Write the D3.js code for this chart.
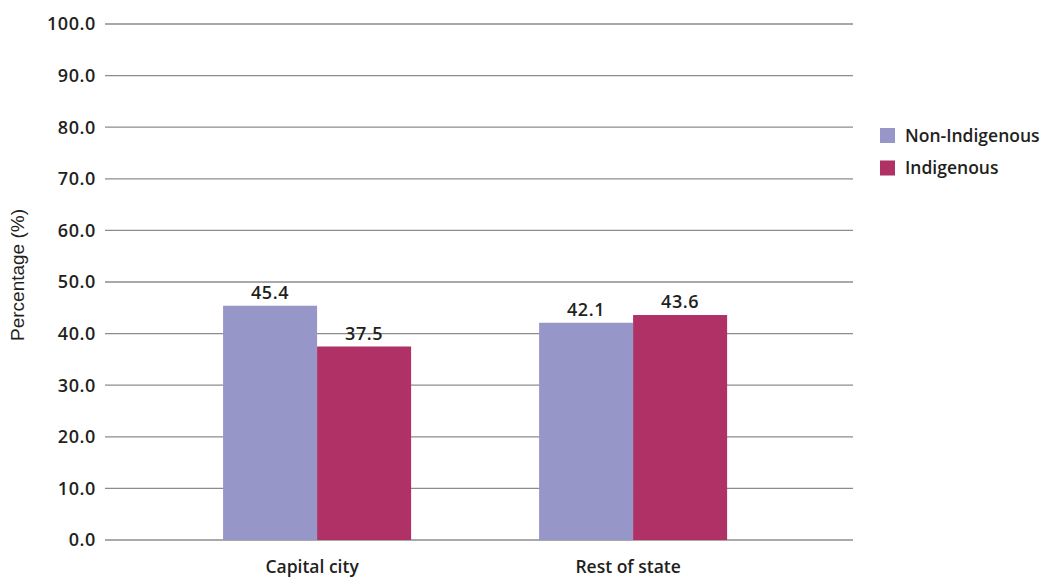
<!DOCTYPE html>
<html>
<head>
<meta charset="utf-8">
<script src="https://cdn.jsdelivr.net/npm/d3@7"></script>
<style>
  body { margin: 0; background: #fff; }
  svg { display: block; }
  .tick-label, .bar-label, .cat-label, .legend-label {
    font-family: "Open Sans", sans-serif;
    font-weight: 600;
    fill: #231f20;
  }
</style>
</head>
<body>
<div class="chart"></div>
<script>

////////// DATA //////////

var categories = ["Capital city", "Rest of state"];
var seriesNames = ["Non-Indigenous", "Indigenous"];
var nonIndigenous = [45.4, 42.1];
var indigenous = [37.5, 43.6];
var yTicks = [0, 10, 20, 30, 40, 50, 60, 70, 80, 90, 100];

var seriesColours = ["#9696c8", "#b03166"];


////////// SETUP //////////

var width = 1040,
    height = 578;

var plot = { left: 105, right: 853, top: 24, bottom: 540 };

var svg = d3.select(".chart")
  .append("svg")
    .attr("width", width)
    .attr("height", height);

var x0 = d3.scaleBand()
    .domain(categories)
    .range([plot.left, plot.right])
    .paddingInner(0.405)
    .paddingOuter(0.386)
    .align(0.484);

var x1 = d3.scaleBand()
    .domain(seriesNames)
    .range([0, x0.bandwidth()]);

var y = d3.scaleLinear()
    .domain([0, 100])
    .range([plot.bottom, plot.top]);

var colour = d3.scaleOrdinal()
    .domain(seriesNames)
    .range(seriesColours);

var rows = categories.map(function(c, i) {
  return { category: c, values: [
    { series: seriesNames[0], value: nonIndigenous[i] },
    { series: seriesNames[1], value: indigenous[i] }
  ]};
});


////////// GRID + Y AXIS //////////

var grid = svg.append("g").attr("class", "grid");

grid.selectAll("line")
  .data(yTicks)
  .enter()
  .append("line")
    .attr("x1", plot.left)
    .attr("x2", plot.right)
    .attr("y1", function(d) { return y(d); })
    .attr("y2", function(d) { return y(d); })
    .attr("stroke", "#8c8c8c")
    .attr("stroke-width", 1.3);

grid.selectAll("text")
  .data(yTicks)
  .enter()
  .append("text")
    .attr("class", "tick-label")
    .attr("x", 96)
    .attr("y", function(d) { return y(d); })
    .attr("dy", "0.36em")
    .attr("text-anchor", "end")
    .style("font-size", "18px")
    .style("letter-spacing", "0.6px")
    .text(function(d) { return d3.format(".1f")(d); });

svg.append("text")
    .attr("transform", "translate(24," + (y(50) - 7) + ") rotate(-90)")
    .attr("text-anchor", "middle")
    .style("font-family", "'Liberation Sans', Arial, sans-serif")
    .style("font-size", "19px")
    .style("fill", "#231f20")
    .text("Percentage (%)");


////////// BARS //////////

var groups = svg.append("g")
    .attr("class", "bars")
  .selectAll("g")
  .data(rows)
  .enter()
  .append("g")
    .attr("transform", function(d) { return "translate(" + x0(d.category) + ",0)"; });

groups.selectAll("rect")
  .data(function(d) { return d.values; })
  .enter()
  .append("rect")
    .attr("x", function(d) { return x1(d.series); })
    .attr("y", function(d) { return y(d.value); })
    .attr("width", x1.bandwidth())
    .attr("height", function(d) { return y(0) - y(d.value); })
    .attr("fill", function(d) { return colour(d.series); });

groups.selectAll("text")
  .data(function(d) { return d.values; })
  .enter()
  .append("text")
    .attr("class", "bar-label")
    .attr("x", function(d) { return x1(d.series) + x1.bandwidth() / 2; })
    .attr("y", function(d) { return y(d.value) - 7; })
    .attr("text-anchor", "middle")
    .style("font-size", "18px")
    .style("letter-spacing", "0.6px")
    .text(function(d) { return d3.format(".1f")(d.value); });

// category labels under the axis
svg.append("g")
  .selectAll("text")
  .data(categories)
  .enter()
  .append("text")
    .attr("class", "cat-label")
    .attr("x", function(d) { return x0(d) + x0.bandwidth() / 2 - 5; })
    .attr("y", 573)
    .attr("text-anchor", "middle")
    .style("font-size", "17.5px")
    .text(function(d) { return d; });


////////// LEGEND //////////

var legend = svg.append("g")
    .attr("class", "legend")
    .attr("transform", "translate(880,128)");

var item = legend.selectAll("g")
  .data(seriesNames)
  .enter()
  .append("g")
    .attr("transform", function(d, i) { return "translate(0," + (i * 32.5) + ")"; });

item.append("rect")
    .attr("width", 15)
    .attr("height", 15)
    .attr("fill", function(d) { return colour(d); });

item.append("text")
    .attr("class", "legend-label")
    .attr("x", 25)
    .attr("y", 7.5)
    .attr("dy", "0.36em")
    .style("font-size", "17.5px")
    .text(function(d) { return d; });

</script>
</body>
</html>
